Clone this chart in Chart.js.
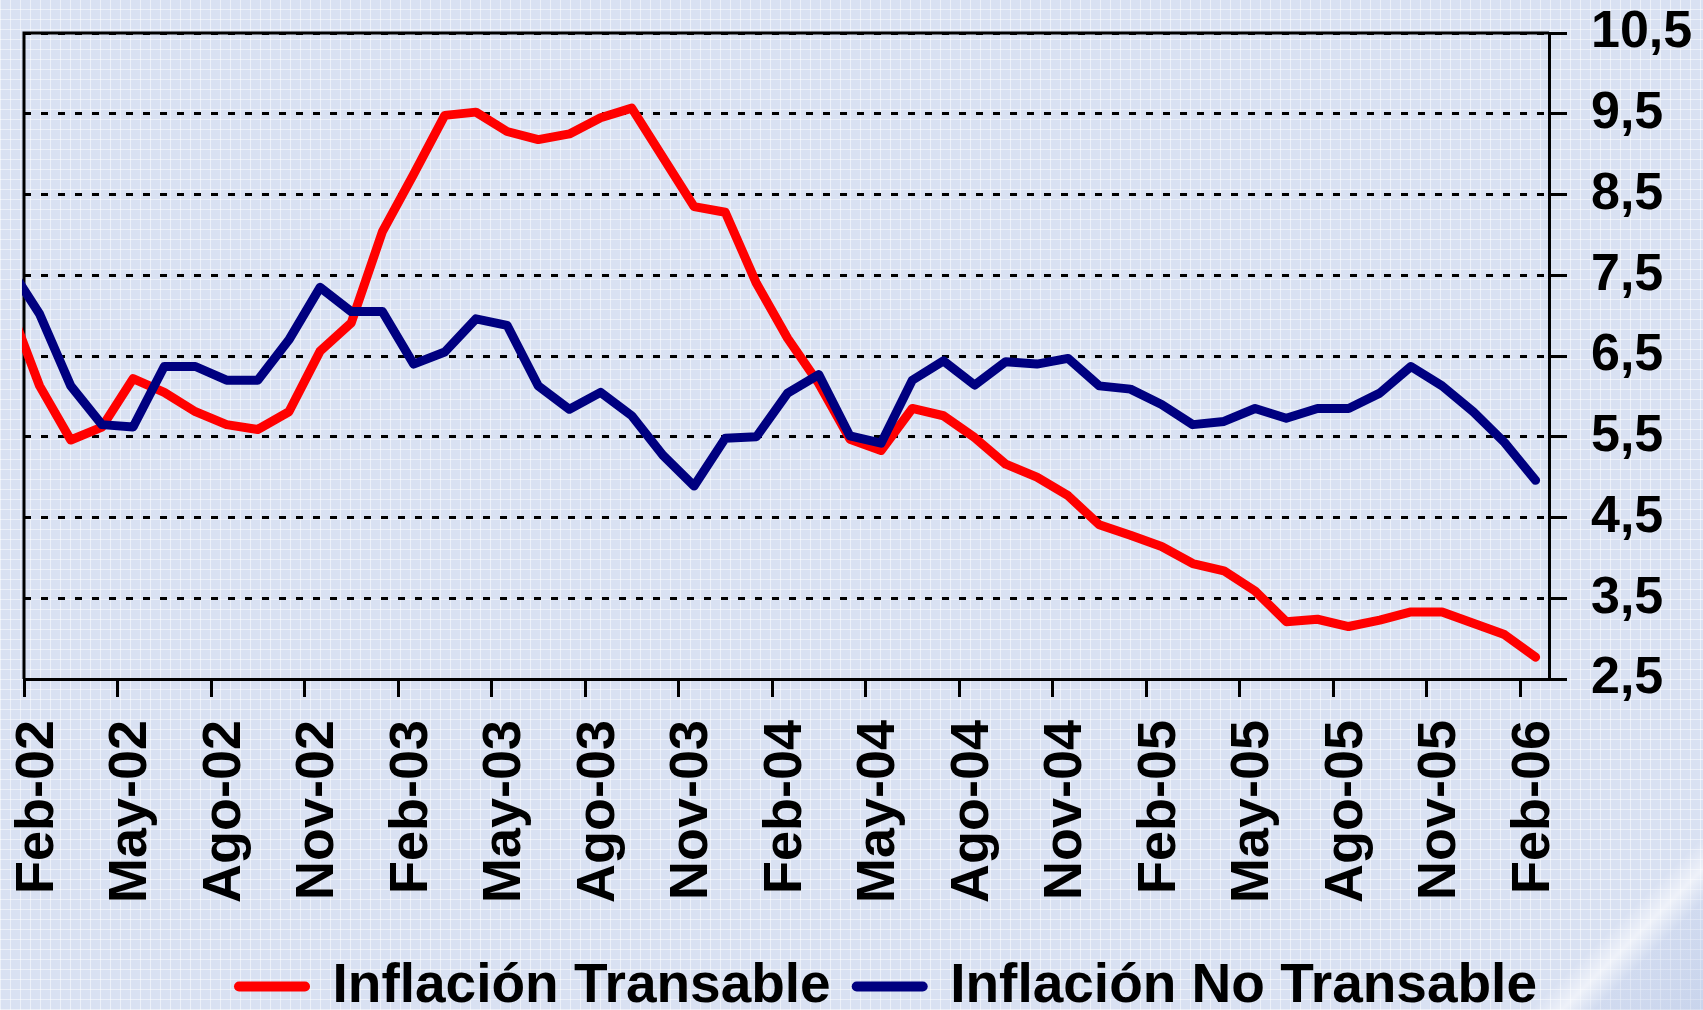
<!DOCTYPE html>
<html>
<head>
<meta charset="utf-8">
<title>Inflación transable y no transable</title>
<script src="https://cdn.jsdelivr.net/npm/chart.js@4.4.1/dist/chart.umd.min.js"></script>
<style>
html, body { margin: 0; padding: 0; overflow: hidden; }
body {
    width: 1703px;
    height: 1010px;
    position: relative;
    background-color: #d9e1f2;
    background-image:
        linear-gradient(135deg, rgba(255,255,255,0) 93.6%, rgba(255,255,255,.55) 94.8%, rgba(185,200,232,.25) 96%, rgba(170,188,225,.35) 100%),
        repeating-linear-gradient(0deg, rgba(255,255,255,.5) 0 1px, rgba(255,255,255,0) 1px 10px),
        repeating-linear-gradient(90deg, rgba(255,255,255,.5) 0 1px, rgba(255,255,255,0) 1px 10px);
}
#wrap { position: absolute; left: 0; top: 0; width: 1752px; height: 1024px; }
</style>
</head>
<body>
<div id="wrap"><canvas id="chart"></canvas></div>
<script>
// months of the series (Ene-02 sits left of the axis and only shows as the cut segment)
let months = [
    'Ene-02', 'Feb-02', 'Mar-02', 'Abr-02', 'May-02', 'Jun-02', 'Jul-02', 'Ago-02', 'Sep-02', 'Oct-02', 'Nov-02', 'Dic-02',
    'Ene-03', 'Feb-03', 'Mar-03', 'Abr-03', 'May-03', 'Jun-03', 'Jul-03', 'Ago-03', 'Sep-03', 'Oct-03', 'Nov-03', 'Dic-03',
    'Ene-04', 'Feb-04', 'Mar-04', 'Abr-04', 'May-04', 'Jun-04', 'Jul-04', 'Ago-04', 'Sep-04', 'Oct-04', 'Nov-04', 'Dic-04',
    'Ene-05', 'Feb-05', 'Mar-05', 'Abr-05', 'May-05', 'Jun-05', 'Jul-05', 'Ago-05', 'Sep-05', 'Oct-05', 'Nov-05', 'Dic-05',
    'Ene-06', 'Feb-06'
]
let transable = [
    7.15, 6.13, 5.46, 5.62, 6.22, 6.05, 5.81, 5.65, 5.59, 5.81, 6.56, 6.91,
    8.04, 8.75, 9.48, 9.52, 9.28, 9.18, 9.25, 9.45, 9.57, 8.96, 8.35, 8.28,
    7.40, 6.72, 6.16, 5.47, 5.33, 5.85, 5.76, 5.49, 5.16, 5.00, 4.77, 4.41,
    4.28, 4.14, 3.93, 3.84, 3.59, 3.21, 3.24, 3.15, 3.23, 3.33, 3.33, 3.19,
    3.05, 2.77
]
let noTransable = [
    7.62, 7.02, 6.13, 5.65, 5.62, 6.37, 6.37, 6.20, 6.20, 6.70, 7.35, 7.05,
    7.05, 6.40, 6.55, 6.96, 6.88, 6.13, 5.84, 6.05, 5.76, 5.27, 4.89, 5.48,
    5.50, 6.04, 6.27, 5.51, 5.42, 6.20, 6.44, 6.14, 6.43, 6.40, 6.47, 6.13,
    6.09, 5.90, 5.65, 5.69, 5.85, 5.73, 5.85, 5.85, 6.04, 6.37, 6.13, 5.81,
    5.43, 4.96
]
let xTickLabels = ['Feb-02', 'May-02', 'Ago-02', 'Nov-02', 'Feb-03', 'May-03', 'Ago-03', 'Nov-03',
    'Feb-04', 'May-04', 'Ago-04', 'Nov-04', 'Feb-05', 'May-05', 'Ago-05', 'Nov-05', 'Feb-06']
let yTicks = [2.5, 3.5, 4.5, 5.5, 6.5, 7.5, 8.5, 9.5, 10.5]

// x axis counts months from the start of Feb-02, each value sits mid-month
let toPoints = vals => vals.map((v, i) => ({ x: i - 0.5, y: v }))
let fontFamily = "'Liberation Sans', Arial, Helvetica, sans-serif"

// left and top edges of the plot box
let frame = {
    id: 'frame',
    beforeDatasetsDraw(chart) {
        let ctx = chart.ctx
        let a = chart.chartArea
        ctx.save()
        ctx.strokeStyle = '#000'
        ctx.lineWidth = 3
        ctx.beginPath()
        ctx.moveTo(a.left, a.bottom)
        ctx.lineTo(a.left, a.top)
        ctx.lineTo(a.right, a.top)
        ctx.stroke()
        ctx.restore()
    }
}

new Chart(document.getElementById('chart'), {
    type: 'line',
    data: {
        datasets: [{
            label: 'Inflación Transable',
            data: toPoints(transable),
            borderColor: '#ff0000',
            backgroundColor: '#ff0000',
            order: 1
        }, {
            label: 'Inflación No Transable',
            data: toPoints(noTransable),
            borderColor: '#000080',
            backgroundColor: '#000080',
            order: 0
        }]
    },
    options: {
        responsive: true,
        maintainAspectRatio: false,
        animation: false,
        layout: { padding: { left: 24, top: 33, right: 0, bottom: 0 } },
        elements: {
            line: { borderWidth: 9, tension: 0, borderCapStyle: 'round', borderJoinStyle: 'round' },
            point: { radius: 0, hoverRadius: 0 }
        },
        datasets: { line: { clip: { left: 2, top: 8, right: 8, bottom: 8 } } },
        scales: {
            x: {
                type: 'linear',
                min: 0,
                max: 48.93,
                afterBuildTicks: s => { s.ticks = xTickLabels.map(l => ({ value: months.indexOf(l) - 1 })) },
                afterFit: s => { s.height = 254; s.paddingLeft = 0; s.paddingRight = 0 },
                grid: { drawOnChartArea: false, tickLength: 18, tickWidth: 3, tickColor: '#000' },
                border: { color: '#000', width: 3 },
                ticks: {
                    autoSkip: false,
                    maxRotation: 90,
                    minRotation: 90,
                    padding: 23,
                    labelOffset: 14,
                    color: '#000',
                    font: { family: fontFamily, size: 54, weight: 'bold' },
                    callback: (v, i) => xTickLabels[i]
                }
            },
            y: {
                type: 'linear',
                position: 'right',
                min: 2.5,
                max: 10.5,
                afterBuildTicks: s => { s.ticks = yTicks.map(v => ({ value: v })) },
                afterFit: s => { s.width = 203; s.paddingTop = 0; s.paddingBottom = 0 },
                grid: { color: '#000', lineWidth: 3, tickLength: 18, tickWidth: 3, tickColor: '#000' },
                border: { color: '#000', width: 3, dash: [7, 10] },
                ticks: {
                    padding: 24,
                    color: '#000',
                    font: { family: fontFamily, size: 52, weight: 'bold' },
                    callback: v => v.toFixed(1).replace('.', ',')
                }
            }
        },
        plugins: {
            legend: {
                position: 'bottom',
                labels: {
                    usePointStyle: true,
                    pointStyle: 'line',
                    pointStyleWidth: 66,
                    boxHeight: 10,
                    padding: 26,
                    color: '#000',
                    font: { family: fontFamily, size: 55, weight: 'bold' },
                    sort: (a, b) => a.datasetIndex - b.datasetIndex,
                    generateLabels: chart => Chart.defaults.plugins.legend.labels.generateLabels(chart)
                        .map(item => Object.assign(item, { lineWidth: 10, lineCap: 'round' }))
                }
            },
            tooltip: { enabled: false }
        }
    },
    plugins: [frame]
})
</script>
</body>
</html>
